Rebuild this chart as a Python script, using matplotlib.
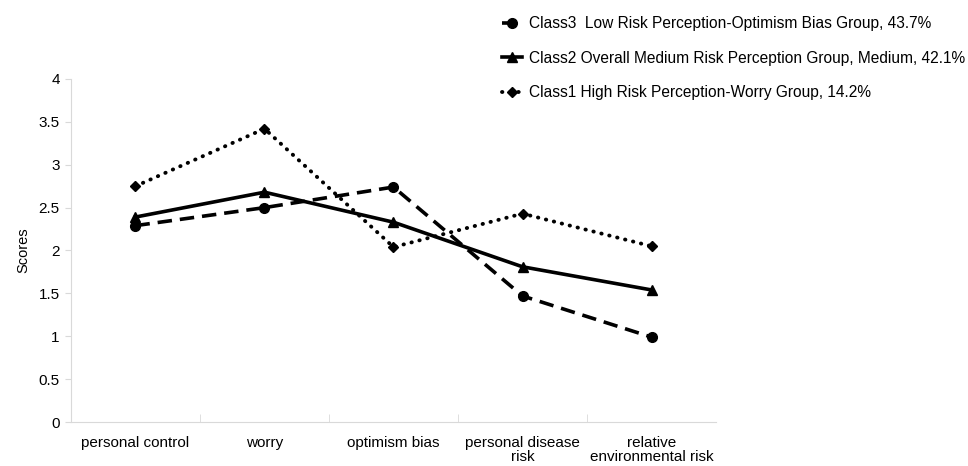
import matplotlib
matplotlib.use('Agg')
import matplotlib.pyplot as plt
import numpy as np

plt.rcParams['font.family'] = ['Liberation Sans', 'DejaVu Sans']

categories = ['personal control', 'worry', 'optimism bias',
              'personal disease\nrisk', 'relative\nenvironmental risk']
class3 = [2.29, 2.50, 2.74, 1.47, 0.99]
class2 = [2.39, 2.68, 2.33, 1.81, 1.54]
class1 = [2.75, 3.42, 2.04, 2.43, 2.05]
labels = ['Class3  Low Risk Perception-Optimism Bias Group, 43.7%',
          'Class2 Overall Medium Risk Perception Group, Medium, 42.1%',
          'Class1 High Risk Perception-Worry Group, 14.2%']

fig = plt.figure(figsize=(9.68, 4.66), dpi=100)
ax = fig.add_axes([0.0733, 0.0944, 0.6664, 0.7361])

x = np.arange(len(categories))
ax.plot(x, class3, color='black', lw=2.6, ls=(0, (4, 2.2)), marker='o', ms=7, label=labels[0])
ax.plot(x, class2, color='black', lw=2.6, ls='-', marker='^', ms=7, label=labels[1])
ax.plot(x, class1, color='black', lw=2.8, ls=(0, (0.1, 2.0)), dash_capstyle='round',
        marker='D', ms=5.5, label=labels[2])

ax.set_xlim(-0.5, len(categories) - 0.5)
ax.set_ylim(0, 4)
ax.set_yticks(np.arange(0, 4.01, 0.5))
ax.set_yticklabels(['0', '0.5', '1', '1.5', '2', '2.5', '3', '3.5', '4'])
ax.set_xticks(x)
ax.set_xticklabels(categories, fontsize=11, va='top', linespacing=1.05)
ax.set_xticks(np.arange(0.5, len(categories) - 0.5, 1), minor=True)
ax.tick_params(axis='x', which='major', length=0, pad=10)
ax.tick_params(axis='x', which='minor', direction='in', length=6, color='#d9d9d9')
ax.tick_params(axis='y', length=4, color='#d9d9d9', labelsize=11, pad=4)
ax.set_ylabel('Scores', fontsize=10.5, labelpad=6)

for s in ['top', 'right']:
    ax.spines[s].set_visible(False)
for s in ['left', 'bottom']:
    ax.spines[s].set_color('#d9d9d9')

fig.legend(loc='upper left', bbox_to_anchor=(0.504, 0.995), frameon=False,
           fontsize=11.2, handlelength=1.3, handletextpad=0.45, labelspacing=1.25)

fig.savefig('out.png', dpi=100)
